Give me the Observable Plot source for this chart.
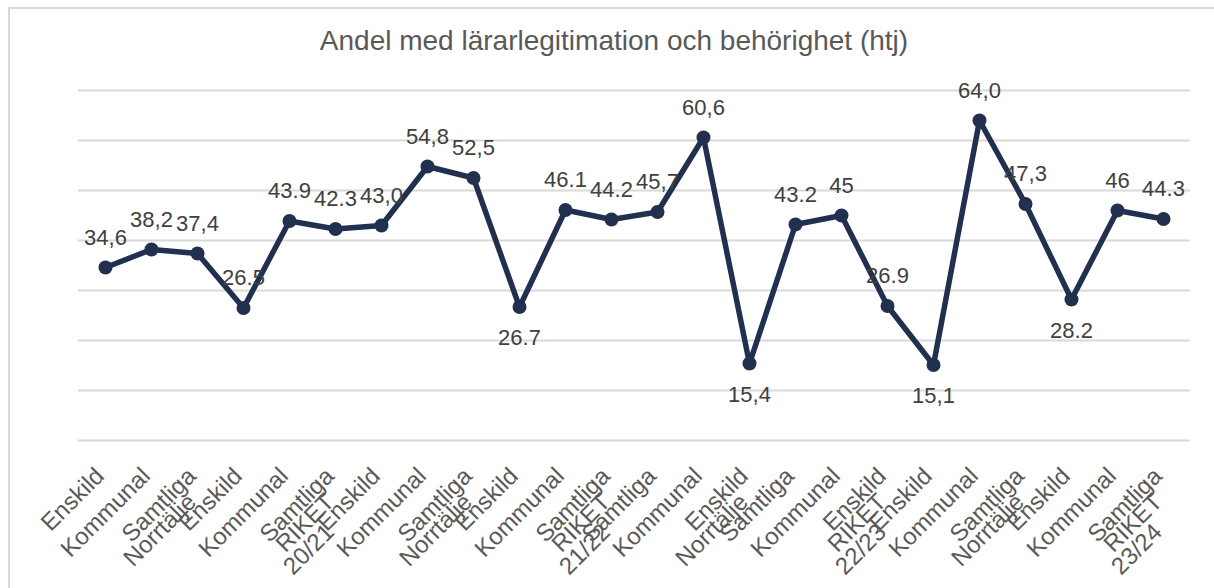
<!DOCTYPE html>
<html>
<head>
<meta charset="utf-8">
<script src="https://cdn.jsdelivr.net/npm/d3@7"></script>
<script src="https://cdn.jsdelivr.net/npm/@observablehq/plot@0.6"></script>
<style>
  body { margin: 0; background: #fff; }
  #wrap { position: relative; width: 1214px; height: 588px; overflow: hidden; font-family: "Liberation Sans", Arial, sans-serif; background: #fff; }
  #frame { position: absolute; left: 8px; top: 7px; width: 1240px; height: 620px; border-left: 2px solid #d9d9d9; border-top: 2px solid #d9d9d9; box-sizing: border-box; }
  #title { position: absolute; left: 14px; right: 0; top: 25px; text-align: center; font-size: 28px; line-height: 32px; color: #595959; white-space: nowrap; }
  #chart { position: absolute; left: 0; top: 0; }
</style>
</head>
<body>
<div id="wrap">
  <div id="frame"></div>
  <div id="chart"></div>
  <div id="title">Andel med lärarlegitimation och behörighet (htj)</div>
</div>
<script>
// ---- Data ----
const years = ["20/21", "21/22", "22/23", "23/24"];
const regions = ["Norrtälje", "RIKET"];
const types = [
  "Enskild", "Kommunal", "Samtliga", "Enskild", "Kommunal", "Samtliga",
  "Enskild", "Kommunal", "Samtliga", "Enskild", "Kommunal", "Samtliga",
  "Samtliga", "Kommunal", "Enskild", "Samtliga", "Kommunal", "Enskild",
  "Enskild", "Kommunal", "Samtliga", "Enskild", "Kommunal", "Samtliga"
];
const values = [
  34.6, 38.2, 37.4, 26.5, 43.9, 42.3,
  43.0, 54.8, 52.5, 26.7, 46.1, 44.2,
  45.7, 60.6, 15.4, 43.2, 45, 26.9,
  15.1, 64.0, 47.3, 28.2, 46, 44.3
];
const valueLabels = [
  "34,6", "38,2", "37,4", "26.5", "43.9", "42.3",
  "43,0", "54,8", "52,5", "26.7", "46.1", "44.2",
  "45,7", "60,6", "15,4", "43.2", "45", "26.9",
  "15,1", "64,0", "47,3", "28.2", "46", "44.3"
];
const labelSide = [
  "above", "above", "above", "above", "above", "above",
  "above", "above", "above", "below", "above", "above",
  "above", "above", "below", "above", "above", "above",
  "below", "above", "above", "below", "above", "above"
];
const yTicks = [0, 10, 20, 30, 40, 50, 60, 70];

// ---- Tables ----
const data = values.map((v, i) => ({
  i, value: v, type: types[i],
  region: regions[Math.floor(i / 3) % 2],
  year: years[Math.floor(i / 6)],
  label: valueLabels[i], side: labelSide[i]
}));
const level1 = data.map(d => ({i: d.i, text: d.type}));
const level2 = d3.range(values.length / 3).map(g => ({i: g * 3 + 2, text: regions[g % 2]}));
const level3 = years.map((y, k) => ({i: k * 6 + 5, text: y}));

const navy = "#22304f";
const axisGray = "#595959";
const labelGray = "#404040";
const font = "Liberation Sans, Arial, sans-serif";

const chart = Plot.plot({
  width: 1214,
  height: 588,
  marginTop: 90,
  marginBottom: 148,
  marginLeft: 78,
  marginRight: 24,
  style: {fontFamily: font, background: "transparent", overflow: "visible"},
  x: {type: "point", domain: data.map(d => d.i), padding: 0.5, axis: null},
  y: {domain: [0, 70], axis: null},
  marks: [
    Plot.ruleY(yTicks, {stroke: "#d9d9d9", strokeWidth: 2}),
    Plot.line(data, {x: "i", y: "value", stroke: navy, strokeWidth: 5.5, strokeLinejoin: "round"}),
    Plot.dot(data, {x: "i", y: "value", r: 7, fill: navy, stroke: null}),
    Plot.text(data.filter(d => d.side === "above"), {x: "i", y: "value", text: "label", dy: -30, fontSize: 22, fill: labelGray}),
    Plot.text(data.filter(d => d.side === "below"), {x: "i", y: "value", text: "label", dy: 31, fontSize: 22, fill: labelGray}),
    Plot.text(level1, {x: "i", text: "text", frameAnchor: "bottom", dy: 37, rotate: -45, textAnchor: "end", fontSize: 24, fill: axisGray}),
    Plot.text(level2, {x: "i", text: "text", frameAnchor: "bottom", dy: 63, rotate: -45, textAnchor: "end", fontSize: 24, fill: axisGray}),
    Plot.text(level3, {x: "i", text: "text", frameAnchor: "bottom", dy: 93, rotate: -45, textAnchor: "end", fontSize: 24, fill: axisGray})
  ]
});
document.getElementById("chart").appendChild(chart);
</script>
</body>
</html>
